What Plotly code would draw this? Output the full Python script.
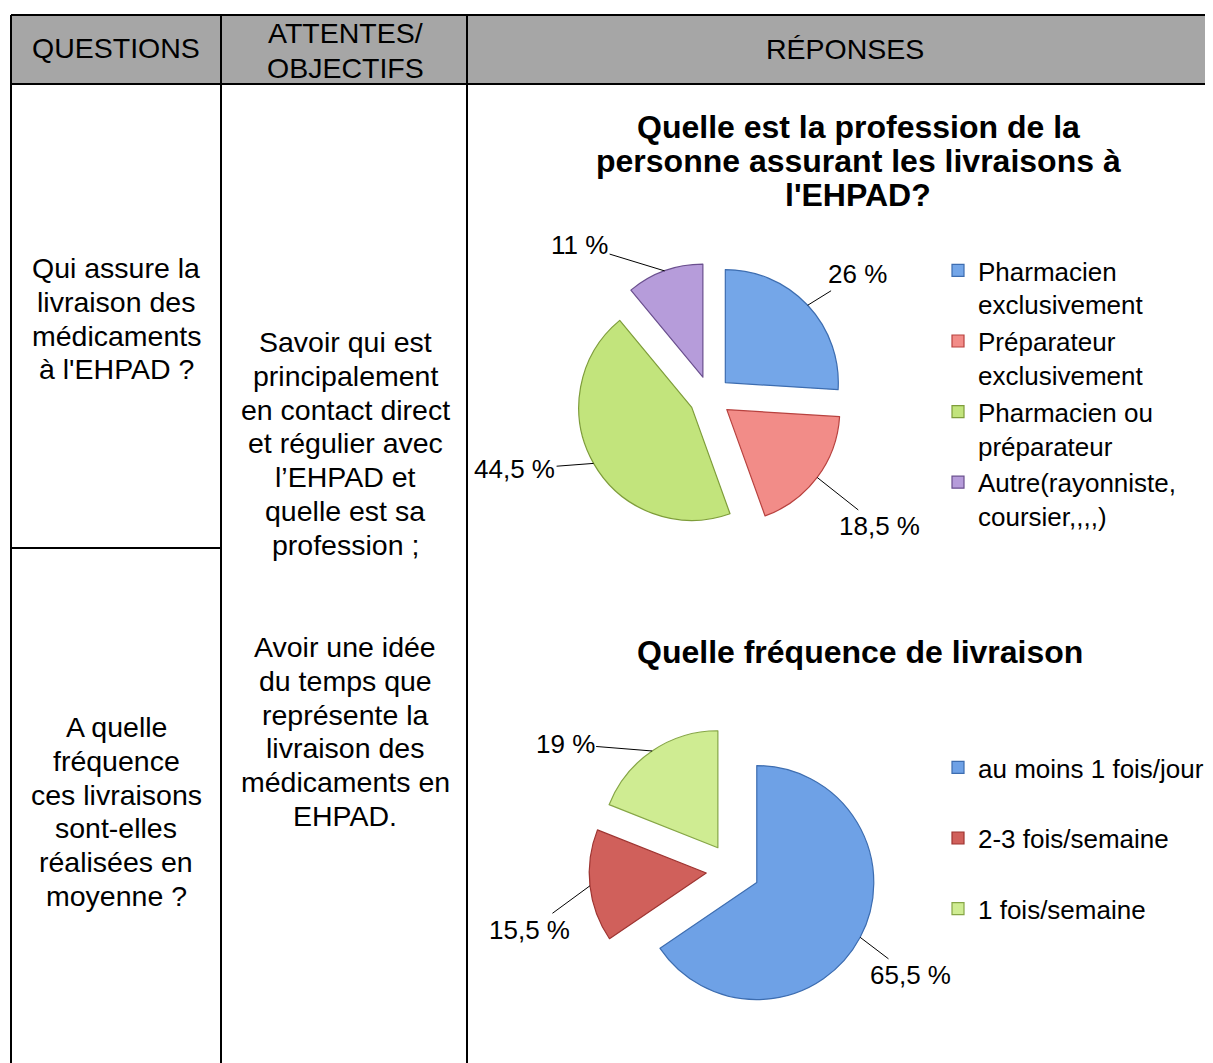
import math
import plotly.graph_objects as go

# page has an 8px body margin, so the figure is drawn 8px in from the corner
OFF = 8
W, H = 1213 - OFF, 1063 - OFF
FONT = "Arial, Liberation Sans, sans-serif"

# --- data -------------------------------------------------------------
headers = ["QUESTIONS", "ATTENTES/<br>OBJECTIFS", "RÉPONSES"]

q1_lines = ["Qui assure la", "livraison des", "médicaments", "à l'EHPAD ?"]
q2_lines = ["A quelle", "fréquence", "ces livraisons", "sont-elles", "réalisées en", "moyenne ?"]
obj1_lines = ["Savoir qui est", "principalement", "en contact direct", "et régulier avec",
              "l’EHPAD et", "quelle est sa", "profession ;"]
obj2_lines = ["Avoir une idée", "du temps que", "représente la", "livraison des",
              "médicaments en", "EHPAD."]

title1_lines = ["Quelle est la profession de la", "personne assurant les livraisons à", "l'EHPAD?"]
title2_lines = ["Quelle fréquence de livraison"]

prof_labels = ["Pharmacien<br>exclusivement", "Préparateur<br>exclusivement",
               "Pharmacien ou<br>préparateur", "Autre(rayonniste,<br>coursier,,,,)"]
prof_values = [26, 18.5, 44.5, 11]

freq_labels = ["au moins 1 fois/jour", "2-3 fois/semaine", "1 fois/semaine"]
freq_values = [65.5, 15.5, 19]

# --- styling ----------------------------------------------------------
prof_colors = ["#74A6E8", "#F28C88", "#C2E47C", "#B69CDA"]
prof_lines = ["#3D6DB0", "#B8423F", "#7E9D3A", "#6A4F8E"]
freq_colors = ["#6EA1E6", "#D0605B", "#CFEC92"]
freq_lines = ["#3D6DB0", "#9E3431", "#86A646"]

def X(p):
    return (p - OFF) / W

def Y(p):
    return 1 - (p - OFF) / H

fig = go.Figure()

# pie geometry (pixel centre, radius, pull)
pies = [
    dict(values=prof_values, labels=prof_labels, colors=prof_colors, lines=prof_lines,
         cx=710, cy=397, r=113, pull=0.186, legend="legend",
         offsets=[(50, -31), (62, 49), (-79, 6), (-85, -26)]),
    dict(values=freq_values, labels=freq_labels, colors=freq_colors, lines=freq_lines,
         cx=733, cy=870, r=117, pull=0.23, legend="legend2",
         offsets=[(50, 38), (-60, 44), (-87, -7)]),
]

annotations = []
for p in pies:
    half = p["r"] * (1 + p["pull"])
    labels = p["labels"]
    if p["legend"] == "legend2":
        labels = [lab + "<br> " for lab in labels]
    fig.add_trace(go.Pie(
        values=p["values"], labels=labels, sort=False, direction="clockwise",
        rotation=0, pull=p["pull"], textinfo="none", hoverinfo="label+percent",
        marker=dict(colors=p["colors"], line=dict(color=p["lines"], width=1.2)),
        domain=dict(x=[X(p["cx"] - half), X(p["cx"] + half)],
                    y=[Y(p["cy"] + half), Y(p["cy"] - half)]),
        legend=p["legend"],
    ))
    # percentage labels with leader lines, tip on arc at mid-angle
    total = sum(p["values"])
    start = 0.0
    dist = p["r"] * (1 + p["pull"])
    for v, (ax, ay) in zip(p["values"], p["offsets"]):
        mid = (start + v / 2) / total * 2 * math.pi
        start += v
        tx = p["cx"] + dist * math.sin(mid)
        ty = p["cy"] - dist * math.cos(mid)
        annotations.append(dict(
            x=X(tx), y=Y(ty), xref="paper", yref="paper",
            text=f"{v:g}".replace(".", ",") + " %",
            showarrow=True, arrowhead=0, arrowwidth=1, arrowcolor="black",
            ax=ax, ay=ay, standoff=0, font=dict(size=26, color="black", family=FONT),
        ))

def add_lines(lines, cx, y0, pitch, size, bold=False):
    for i, t in enumerate(lines):
        annotations.append(dict(
            x=X(cx), y=Y(y0 + i * pitch), xref="paper", yref="paper",
            text=f"<b>{t}</b>" if bold else t, showarrow=False,
            xanchor="center", yanchor="middle",
            font=dict(size=size, color="black", family=FONT),
        ))

# header
add_lines([headers[0]], 116, 48, 0, 28.5)
add_lines(headers[1].split("<br>"), 345, 33, 35, 28.5)
add_lines([headers[2]], 845, 49, 0, 28.5)

# body
add_lines(q1_lines, 116, 268, 33.8, 28.5)
add_lines(q2_lines, 116, 727, 33.8, 28.5)
add_lines(obj1_lines, 345, 342, 33.8, 28.5)
add_lines(obj2_lines, 345, 647, 33.8, 28.5)

# chart titles
add_lines(title1_lines, 858, 127, 34, 32, bold=True)
add_lines(title2_lines, 860, 652, 0, 32, bold=True)

# table grid
shapes = [
    dict(type="rect", xref="paper", yref="paper", x0=X(11), x1=X(1220), y0=Y(84), y1=Y(15),
         fillcolor="#A6A6A6", line=dict(width=0), layer="below"),
]
for x in (11, 221, 467):
    shapes.append(dict(type="line", xref="paper", yref="paper", x0=X(x), x1=X(x),
                       y0=Y(15), y1=Y(1075), line=dict(color="black", width=2)))
for y, x1 in ((15, 1220), (84, 1220), (548, 221)):
    shapes.append(dict(type="line", xref="paper", yref="paper", x0=X(11), x1=X(x1),
                       y0=Y(y), y1=Y(y), line=dict(color="black", width=2)))

legend_style = dict(font=dict(size=26, color="black", family=FONT), valign="top",
                    bgcolor="rgba(0,0,0,0)", xanchor="left", yanchor="top",
                    itemclick=False, itemdoubleclick=False)

fig.update_layout(
    width=W, height=H,
    margin=dict(l=0, r=0, t=0, b=0),
    paper_bgcolor="white", plot_bgcolor="white",
    font=dict(family=FONT, color="black"),
    showlegend=True,
    legend=dict(x=X(938), y=Y(247), **legend_style),
    legend2=dict(x=X(938), y=Y(744), **legend_style),
    annotations=annotations,
    shapes=shapes,
)

fig.write_html("out.html")
